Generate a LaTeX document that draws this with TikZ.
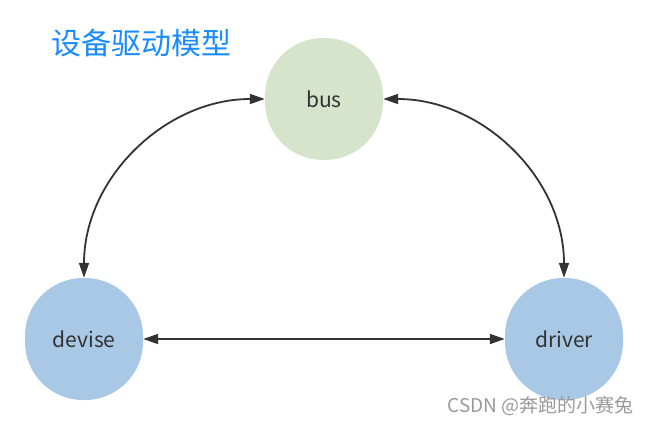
\documentclass[tikz,border=0pt]{standalone}
\usepackage{fontspec}
\setmainfont{Noto Sans CJK SC}
\usetikzlibrary{arrows.meta}
\definecolor{verde}{RGB}{214,228,203}
\definecolor{azzurro}{RGB}{168,200,230}
\definecolor{titolo}{RGB}{24,140,255}
\definecolor{linea}{RGB}{51,51,51}
\begin{document}
\begin{tikzpicture}[x=1pt,y=-1pt,
    blob/.style={rounded corners=58pt,minimum width=118pt,minimum height=122pt,inner sep=0pt,text=linea,font=\fontsize{21}{24}\selectfont},
    freccia/.style={draw=linea,line width=1.8pt,{Triangle[length=15pt,width=10pt]}-{Triangle[length=15pt,width=10pt]}}]
    \useasboundingbox (0,0) rectangle (648,425);
    \node[anchor=west,inner sep=0pt,text=titolo,font=\fontsize{30}{36}\selectfont] (titolo) at (51,43) {设备驱动模型}; %titolo
    \node[blob,fill=verde] (bus) at (324,99) {bus}; %nodo in alto
    \node[blob,fill=azzurro] (devise) at (84,339) {devise};
    \node[blob,fill=azzurro] (driver) at (564,339) {driver};
    \draw[freccia] (bus.west) to[out=180,in=90] (devise.north); %arco sinistro
    \draw[freccia] (bus.east) to[out=0,in=90] (driver.north); %arco destro
    \draw[freccia] (devise) -- (driver);
    \node[anchor=east,inner sep=0pt,text=black!40,font=\fontsize{19}{22}\selectfont] (firma) at (634,406) {CSDN @奔跑的小赛兔};
\end{tikzpicture}
\end{document}
